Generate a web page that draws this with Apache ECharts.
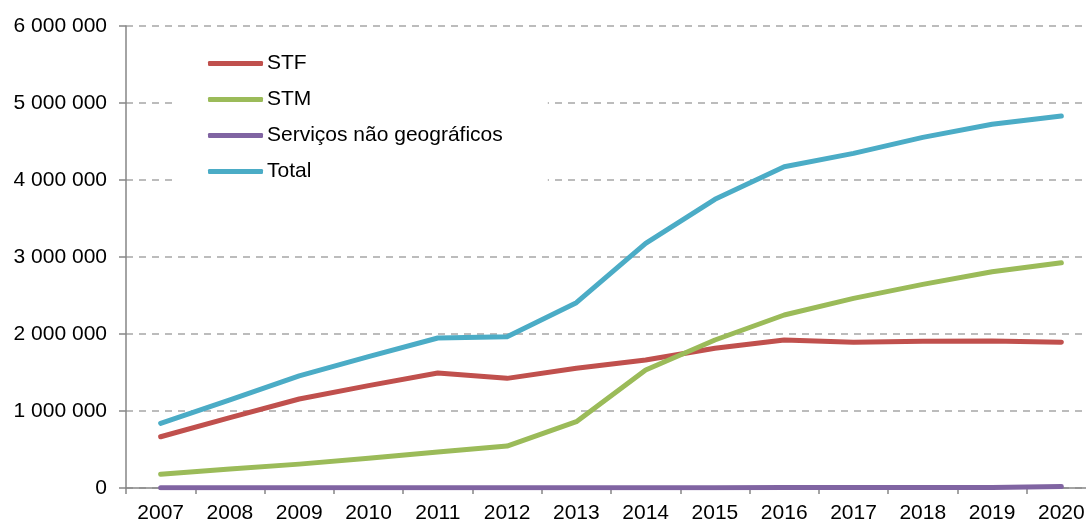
<!DOCTYPE html>
<html>
<head>
<meta charset="utf-8">
<script src="https://cdn.jsdelivr.net/npm/echarts@6/dist/echarts.min.js"></script>
<style>
html,body{margin:0;padding:0;background:#fff;}
#chart{width:1086px;height:521px;}
</style>
</head>
<body>
<div id="chart"></div>
<script>
const years = ['2007','2008','2009','2010','2011','2012','2013','2014','2015','2016','2017','2018','2019','2020'];
const stf = [666000, 913000, 1156000, 1330000, 1494000, 1424000, 1555000, 1662000, 1814000, 1922000, 1892000, 1905000, 1909000, 1892000];
const stm = [178000, 247000, 310000, 385000, 468000, 545000, 861000, 1532000, 1922000, 2247000, 2463000, 2645000, 2809000, 2926000];
const naoGeo = [2000, 2500, 3000, 3000, 3500, 3500, 4000, 4500, 4500, 5000, 5000, 6000, 7000, 18000];
const total = [840000, 1143000, 1455000, 1705000, 1948000, 1965000, 2407000, 3178000, 3749000, 4173000, 4346000, 4554000, 4723000, 4831000];
const seriesNames = ['STF', 'STM', 'Serviços não geográficos', 'Total'];
const seriesColors = ['#C0504D', '#9BBB59', '#8064A2', '#4BACC6'];
const yTicks = { min: 0, max: 6000000, interval: 1000000 };

const font = 'Liberation Sans, Arial, sans-serif';
const chart = echarts.init(document.getElementById('chart'), null, {renderer: 'canvas'});
function fmt(v){ return String(v).replace(/\B(?=(\d{3})+(?!\d))/g, ' '); }
const dataSets = [stf, stm, naoGeo, total];
chart.setOption({
  animation: false,
  backgroundColor: '#fff',
  grid: { left: 126, right: -10, top: 26, bottom: 33, containLabel: false, outerBoundsMode: 'none' },
  legend: {
    orient: 'vertical',
    left: 174, top: 38,
    backgroundColor: '#fff',
    padding: [15, 45, 6, 34],
    itemWidth: 55, itemHeight: 5, itemGap: 15,
    icon: 'roundRect',
    textStyle: { fontFamily: font, fontSize: 21, color: '#000', padding: [0,0,0,-1] },
    data: seriesNames
  },
  xAxis: {
    type: 'category',
    data: years,
    boundaryGap: true,
    axisLine: { lineStyle: { color: '#868686', width: 1.5 } },
    axisTick: { show: true, length: 6, lineStyle: { color: '#868686', width: 1.5 } },
    axisLabel: { fontFamily: font, fontSize: 21, color: '#000', margin: 15 },
    splitLine: { show: false }
  },
  yAxis: {
    type: 'value',
    min: yTicks.min, max: yTicks.max, interval: yTicks.interval,
    axisLine: { show: true, lineStyle: { color: '#868686', width: 1.5 } },
    axisTick: { show: true, length: 7, lineStyle: { color: '#868686', width: 1.5 } },
    axisLabel: { fontFamily: font, fontSize: 21, color: '#000', margin: 19, formatter: fmt },
    splitLine: { show: true, lineStyle: { color: '#a6a6a6', width: 1.5, type: [7, 6] } }
  },
  series: seriesNames.map((n, i) => ({
    name: n,
    type: 'line',
    data: dataSets[i],
    symbol: 'none',
    smooth: false,
    color: seriesColors[i],
    lineStyle: { width: 5, color: seriesColors[i], cap: 'round', join: 'round' },
    itemStyle: { color: seriesColors[i] }
  }))
});
</script>
</body>
</html>
